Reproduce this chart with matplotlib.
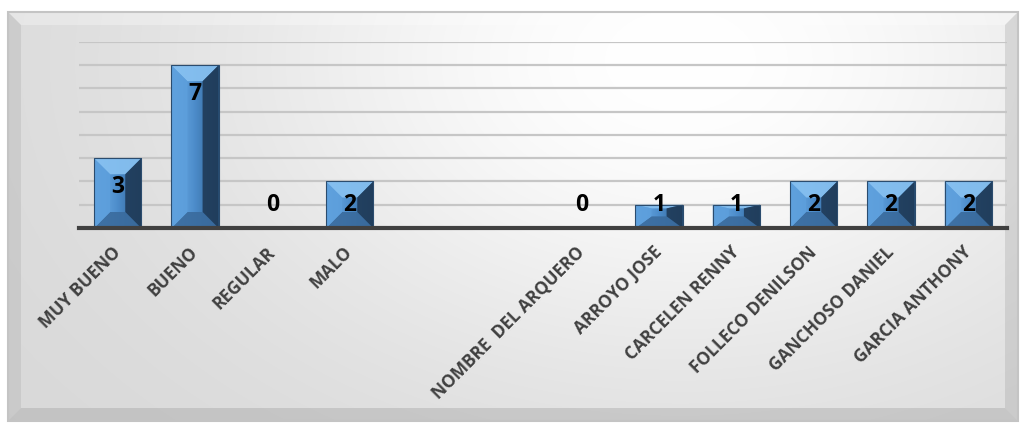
import numpy as np
import matplotlib
matplotlib.use("Agg")
import matplotlib.pyplot as plt
from matplotlib.patches import Polygon, Rectangle
from matplotlib.colors import LinearSegmentedColormap

categories = ["MUY BUENO", "BUENO", "REGULAR", "MALO", "", "",
              "NOMBRE  DEL ARQUERO", "ARROYO JOSE", "CARCELEN RENNY",
              "FOLLECO DENILSON", "GANCHOSO DANIEL", "GARCIA ANTHONY"]
values = [3, 7, 0, 2, None, None, 0, 1, 1, 2, 2, 2]
y_max = 8

FONT = ["Open Sans", "DejaVu Sans"]

W, H = 1023, 423
fig = plt.figure(figsize=(W / 100, H / 100), dpi=100)
fig.patch.set_facecolor("white")

# ---------- background (pixel coordinates) ----------
bg = fig.add_axes([0, 0, 1, 1], zorder=0)
bg.set_xlim(0, W)
bg.set_ylim(H, 0)
bg.axis("off")
fx0, fy0, fx1, fy1 = 8, 12, 1018, 421
yy, xx = np.mgrid[fy0:fy1, fx0:fx1]
grad = 0.845 + 0.155 * np.exp(-((xx - 680) / 470.0) ** 2 - ((yy - 60) / 320.0) ** 2)
grad = np.clip(grad, 0, 1)
bg.imshow(np.dstack([grad, grad, grad]), extent=(fx0, fx1, fy1, fy0),
          aspect="auto", interpolation="bilinear", zorder=0)
b = 13
bg.add_patch(Polygon([(fx0, fy0), (fx1, fy0), (fx1 - b, fy0 + b), (fx0 + b, fy0 + b)],
                     closed=True, fc="white", ec="none", alpha=0.3, zorder=1))
bg.add_patch(Polygon([(fx0, fy0), (fx0 + b, fy0 + b), (fx0 + b, fy1 - b), (fx0, fy1)],
                     closed=True, fc="#a8a8a8", ec="none", alpha=0.3, zorder=1))
bg.add_patch(Polygon([(fx1, fy0), (fx1 - b, fy0 + b), (fx1 - b, fy1 - b), (fx1, fy1)],
                     closed=True, fc="#a0a0a0", ec="none", alpha=0.3, zorder=1))
bg.add_patch(Polygon([(fx0, fy1), (fx0 + b, fy1 - b), (fx1 - b, fy1 - b), (fx1, fy1)],
                     closed=True, fc="#9a9a9a", ec="none", alpha=0.35, zorder=1))
bg.add_patch(Rectangle((fx0, fy0), fx1 - fx0, fy1 - fy0, fill=False,
                       ec="#c4c4c4", lw=1.5, zorder=2))

# ---------- main axes ----------
left, right, top, base = 79, 1007, 42, 228
ax = fig.add_axes([left / W, (H - base) / H, (right - left) / W, (base - top) / H], zorder=2)
ax.patch.set_alpha(0)
n = len(categories)
x = np.arange(n)
ax.set_xlim(-0.5, n - 0.5)
ax.set_ylim(0, y_max)
ax.set_yticks(np.arange(1, y_max + 1))
ax.yaxis.grid(True, color="#c6c6c6", lw=1.6, zorder=0)
ax.set_axisbelow(True)
for s in ["top", "right", "left"]:
    ax.spines[s].set_visible(False)
ax.spines["bottom"].set_color("#404040")
ax.spines["bottom"].set_linewidth(3)
ax.spines["bottom"].set_zorder(5)
ax.tick_params(left=False, labelleft=False, bottom=False)

ax.set_xticks(x)
ax.set_xticklabels(categories, rotation=45, ha="right", va="center",
                   rotation_mode="anchor", fontsize=12.5, fontweight="bold",
                   color="#404040", family=FONT)
ax.tick_params(axis="x", pad=12)

bx = [xi for xi, v in zip(x, values) if v is not None]
bv = [v for v in values if v is not None]
bars = ax.bar(bx, bv, width=0.61, color="#4f8cc9", edgecolor="none", zorder=3)

cmap = LinearSegmentedColormap.from_list("front", ["#72b2ec", "#4c8cca", "#2f5f8f"])
inv = ax.transData.inverted()
for rect, v in zip(bars, bv):
    if v <= 0:
        continue
    (px0, py0), (px1, py1) = ax.transData.transform(
        [(rect.get_x(), 0), (rect.get_x() + rect.get_width(), rect.get_height())])
    w = px1 - px0
    h = py1 - py0
    im = ax.imshow(np.linspace(0, 1, 64).reshape(1, -1), cmap=cmap, aspect="auto",
                   extent=(rect.get_x(), rect.get_x() + rect.get_width(), 0, v),
                   zorder=3.1, interpolation="bilinear")
    im.set_clip_path(rect)
    d = min(16, w / 2)
    db = min(16, h / 2)
    dt = max(min(16, h - db - 8), 3)
    ix0, ix1 = px0 + d, px1 - d
    iy0, iy1 = py0 + db, py1 - dt

    def P(pts):
        return inv.transform(pts)

    faces = [
        ([(px0, py1), (px1, py1), (ix1, iy1), (ix0, iy1)], "#86c0f0", 0.95),
        ([(px0, py0), (px1, py0), (ix1, iy0), (ix0, iy0)], "#3a6b9d", 0.9),
        ([(px0, py0), (ix0, iy0), (ix0, iy1), (px0, py1)], "#5d9fdc", 0.9),
        ([(px1, py0), (ix1, iy0), (ix1, iy1), (px1, py1)], "#1f3a57", 0.9),
    ]
    for pts, c, a in faces:
        ax.add_patch(Polygon(P(pts), closed=True, fc=c, ec="none", alpha=a, zorder=3.2))
    ax.add_patch(Rectangle((rect.get_x(), 0), rect.get_width(), v, fill=False,
                           ec="#2b4c6e", lw=0.8, zorder=3.3))

ax.set_xlim(-0.5, n - 0.5)
ax.set_ylim(0, y_max)

for xi, v in zip(x, values):
    if v is None:
        continue
    ypos = max(v - 1.25, 1.0)
    ax.text(xi, ypos, str(v), ha="center", va="center", fontsize=16.5,
            fontweight="bold", color="black", family=FONT, zorder=6)

fig.savefig("out.png", dpi=100, facecolor="white")
